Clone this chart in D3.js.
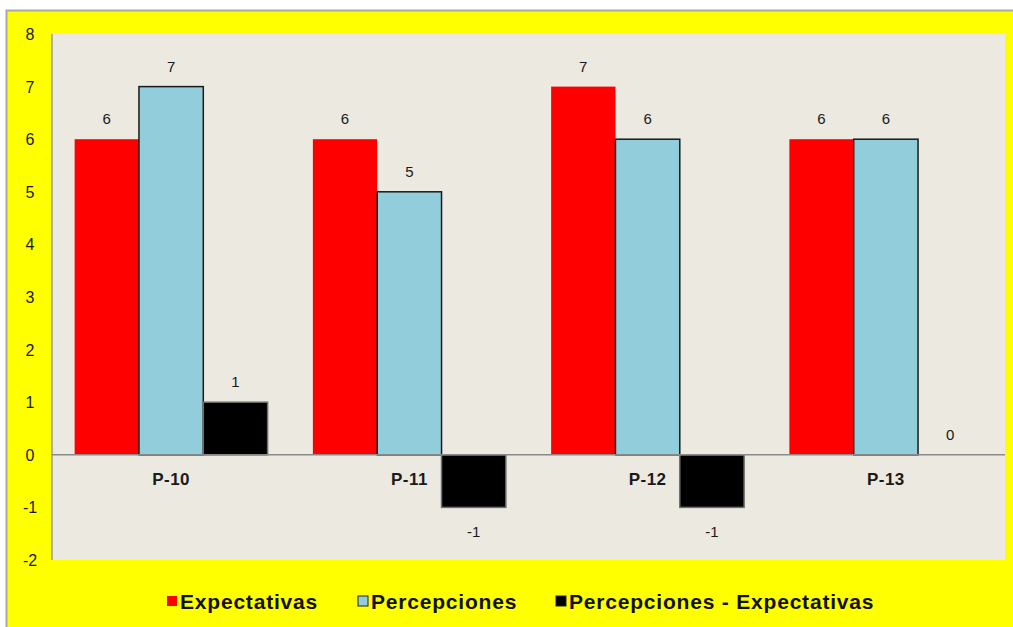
<!DOCTYPE html>
<html>
<head>
<meta charset="utf-8">
<script src="https://cdn.jsdelivr.net/npm/d3@7"></script>
<style>
  body { margin: 0; background: #fff; }
  svg { display: block; font-family: "Liberation Sans", Arial, sans-serif; }
</style>
</head>
<body>
<div id="chart"></div>
<script>
// data
const categories = ["P-10", "P-11", "P-12", "P-13"]
const expectativas = [6, 6, 7, 6]
const percepciones = [7, 5, 6, 6]
const diferencia = [1, -1, -1, 0]
const seriesNames = ["Expectativas", "Percepciones", "Percepciones - Expectativas"]
const yTicks = [-2, -1, 0, 1, 2, 3, 4, 5, 6, 7, 8]

const W = 1013, H = 627
const plot = {left: 52, top: 34, right: 1005, bottom: 560}

const svg = d3.select("#chart").append("svg")
  .attr("width", W).attr("height", H)

// yellow chart area with thin grey border
svg.append("rect")
  .attr("x", 6.5).attr("y", 10.5)
  .attr("width", W + 10).attr("height", H + 10)
  .attr("fill", "#ffff00").attr("stroke", "#a8a8a8").attr("stroke-width", 2)

svg.append("rect")
  .attr("x", plot.left).attr("y", plot.top)
  .attr("width", plot.right - plot.left).attr("height", plot.bottom - plot.top)
  .attr("fill", "#ece9e0")

const y = d3.scaleLinear().domain([-2, 8]).range([plot.bottom, plot.top])
const x0 = d3.scaleBand().domain(categories).range([plot.left, plot.right]).paddingInner(0.19).paddingOuter(0.095)
const keys = ["e", "p", "d"]
const x1 = d3.scaleBand().domain(keys).range([0, x0.bandwidth()])

const rows = categories.map((c, i) => ({cat: c, e: expectativas[i], p: percepciones[i], d: diferencia[i]}))
const fill = {e: "#ff0000", p: "#92cddc", d: "#000000"}
const stroke = {e: "none", p: "#1a1a1a", d: "#6e6e6e"}

// left axis line
svg.append("line")
  .attr("x1", plot.left).attr("x2", plot.left)
  .attr("y1", plot.top).attr("y2", plot.bottom)
  .attr("stroke", "#9a9a9a").attr("stroke-width", 1.5)

// y tick labels
svg.append("g").selectAll("text")
  .data(yTicks)
  .join("text")
    .attr("x", 30).attr("y", d => y(d) + 6)
    .attr("text-anchor", "middle")
    .attr("font-size", 16)
    .attr("fill", "#1a1a1a")
    .text(d => d)

const groups = svg.append("g").selectAll("g")
  .data(rows)
  .join("g")
    .attr("transform", d => `translate(${x0(d.cat)},0)`)

const cells = groups.selectAll("g")
  .data(d => keys.map(k => ({key: k, value: d[k]})))
  .join("g")

cells.filter(d => d.value !== 0).append("rect")
  .attr("x", d => x1(d.key))
  .attr("y", d => y(Math.max(0, d.value)))
  .attr("width", x1.bandwidth())
  .attr("height", d => Math.abs(y(d.value) - y(0)))
  .attr("fill", d => fill[d.key])
  .attr("stroke", d => stroke[d.key])
  .attr("stroke-width", 1.5)

cells.append("text")
  .attr("x", d => x1(d.key) + x1.bandwidth() / 2)
  .attr("y", d => d.value >= 0 ? y(d.value) - 15 : y(d.value) + 30)
  .attr("text-anchor", "middle")
  .attr("font-size", 15)
  .attr("fill", "#1a1a1a")
  .text(d => d.value)

// zero line
svg.append("line")
  .attr("x1", plot.left).attr("x2", plot.right)
  .attr("y1", y(0)).attr("y2", y(0))
  .attr("stroke", "#8a8a8a").attr("stroke-width", 1.5)

// category labels
svg.append("g").selectAll("text")
  .data(categories)
  .join("text")
    .attr("x", d => x0(d) + x0.bandwidth() / 2)
    .attr("y", y(0) + 30)
    .attr("text-anchor", "middle")
    .attr("font-size", 17).attr("font-weight", "bold")
    .attr("letter-spacing", 0.5)
    .attr("fill", "#1a1a1a")
    .text(d => d)

// legend
const legendX = [167, 358, 556]
const legend = svg.append("g").selectAll("g")
  .data(keys)
  .join("g")
    .attr("transform", (d, i) => `translate(${legendX[i]},601)`)
legend.append("rect")
  .attr("x", 0).attr("y", -5).attr("width", 10).attr("height", 10)
  .attr("fill", d => fill[d])
  .attr("stroke", d => d === "e" ? "none" : "#222").attr("stroke-width", 1)
legend.append("text")
  .attr("x", 13).attr("y", 8)
  .attr("font-size", 21).attr("font-weight", "bold")
  .attr("letter-spacing", 0.8)
  .attr("fill", "#111")
  .text((d, i) => seriesNames[i])
</script>
</body>
</html>
